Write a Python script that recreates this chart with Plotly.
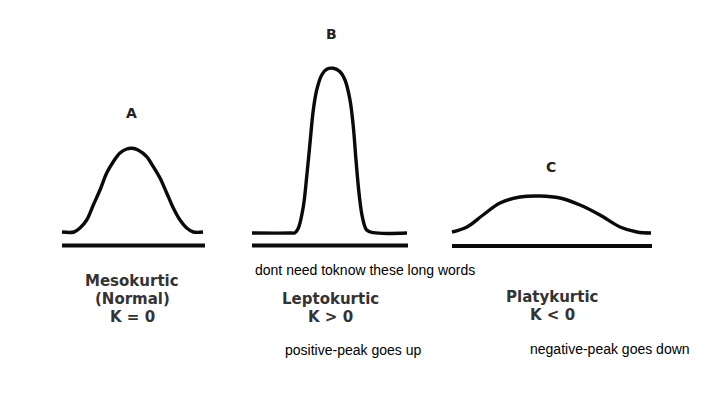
import plotly.graph_objects as go

# Curves (x, y in picture units; y grows downward)
curve_a_x = [62, 74, 80, 86.7, 93.3, 100, 106.7, 113.3, 120, 126.7, 132, 138, 146.7, 153.3,
             160, 166.7, 173.3, 180, 186.7, 193.3, 203]
curve_a_y = [232, 232, 228, 220, 205, 190, 173, 161.7, 153, 149, 148.3, 150, 156.7, 166.7,
             178, 193, 208, 220, 228, 232, 232]
curve_b_x = [252, 290, 295, 298.3, 303.3, 306.7, 310, 313.3, 316.7, 321.7, 326.7, 333.3, 340,
             345, 350, 353.3, 356, 359, 362.3, 366.7, 373.3, 407]
curve_b_y = [233, 233, 232.7, 228.3, 206.7, 176.7, 143, 110, 90, 75, 69.3, 68.3, 71.7,
             80, 100, 126.7, 160, 193, 216.7, 230, 232.7, 233]
curve_c_x = [452, 467, 483, 500, 520, 540, 560, 580, 600, 620, 637, 651]
curve_c_y = [232, 227, 215, 203, 197, 196, 198, 205, 215, 227, 232, 233]

baseline_x0 = [62, 252, 452]
baseline_x1 = [205, 408, 652]
baseline_y = [245.5, 245.5, 246]

letters = ["A", "B", "C"]
letter_x = [131, 331, 551]
letter_y = [113, 34, 167]

name_lines = [["Mesokurtic", "(Normal)", "K = 0"], ["Leptokurtic", "K > 0"], ["Platykurtic", "K < 0"]]
name_x = [132, 330, 552]
name_y0 = [281, 299, 297]

notes = ["dont need toknow these long words", "positive-peak goes up", "negative-peak goes down"]
note_x = [365, 353, 610]
note_y = [270, 350, 349]

OFF = 8  # page body margin
W, H = 727, 394

fig = go.Figure()
for xs, ys in [(curve_a_x, curve_a_y), (curve_b_x, curve_b_y), (curve_c_x, curve_c_y)]:
    fig.add_trace(go.Scatter(x=xs, y=ys, mode="lines",
                             line=dict(color="#0a0a0a", width=3.4, shape="spline", smoothing=1),
                             hoverinfo="skip", showlegend=False))
for x0, x1, y in zip(baseline_x0, baseline_x1, baseline_y):
    fig.add_trace(go.Scatter(x=[x0, x1], y=[y, y], mode="lines",
                             line=dict(color="#0a0a0a", width=4),
                             hoverinfo="skip", showlegend=False))

bold = dict(family="DejaVu Sans", size=15, color="#333333", weight="bold")
for t, x, y in zip(letters, letter_x, letter_y):
    fig.add_annotation(x=x, y=y, text=t, showarrow=False, xanchor="center", yanchor="middle",
                       font=dict(family="DejaVu Sans", size=14, color="#222222", weight="bold"))
for lines, x, y0 in zip(name_lines, name_x, name_y0):
    for i, t in enumerate(lines):
        fig.add_annotation(x=x, y=y0 + 18 * i, text=t, showarrow=False, xanchor="center",
                           yanchor="middle", font=bold)
for t, x, y in zip(notes, note_x, note_y):
    fig.add_annotation(x=x, y=y, text=t, showarrow=False, xanchor="center", yanchor="middle",
                       font=dict(family="Liberation Sans, Arial", size=14, color="#000000"))

fig.update_layout(width=W - 2 * OFF, height=H - 2 * OFF, autosize=False,
                  margin=dict(l=0, r=0, t=0, b=0),
                  paper_bgcolor="white", plot_bgcolor="white")
fig.update_xaxes(range=[OFF, W - OFF], visible=False, fixedrange=True)
fig.update_yaxes(range=[H - OFF, OFF], visible=False, fixedrange=True)
fig.write_html("out.html")
